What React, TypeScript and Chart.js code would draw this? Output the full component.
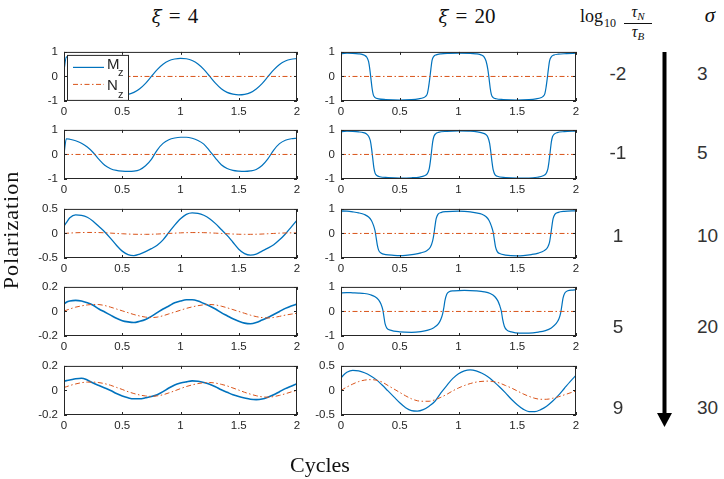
import React, { useEffect, useRef } from "react";
import { Chart, registerables } from "chart.js";
Chart.register(...registerables);

// ---------- data ----------
const cycles = [0, 0.02, 0.05, 0.1, 0.15, 0.2, 0.25, 0.3, 0.35, 0.4, 0.45, 0.5, 0.55, 0.6, 0.65, 0.7, 0.75, 0.8, 0.85, 0.9, 0.95, 1, 1.05, 1.1, 1.15, 1.2, 1.25, 1.3, 1.35, 1.4, 1.45, 1.5, 1.55, 1.6, 1.65, 1.7, 1.75, 1.8, 1.85, 1.9, 1.95, 2];

// xi = 4 column (values on `cycles`)
const mzXi4Sig3 = [0.25, 0.8, 0.71, 0.64, 0.5, 0.28, 0, -0.28, -0.5, -0.64, -0.71, -0.74, -0.73, -0.65, -0.5, -0.28, 0, 0.28, 0.5, 0.64, 0.71, 0.74, 0.72, 0.65, 0.51, 0.29, 0.01, -0.27, -0.5, -0.65, -0.72, -0.75, -0.73, -0.66, -0.51, -0.29, -0.01, 0.27, 0.49, 0.63, 0.7, 0.73];
const mzXi4Sig5 = [0, 0.64, 0.62, 0.56, 0.46, 0.3, 0.08, -0.2, -0.44, -0.58, -0.65, -0.68, -0.69, -0.68, -0.62, -0.46, -0.2, 0.18, 0.45, 0.6, 0.67, 0.7, 0.7, 0.66, 0.57, 0.42, 0.15, -0.15, -0.42, -0.57, -0.65, -0.68, -0.69, -0.67, -0.61, -0.45, -0.18, 0.18, 0.44, 0.58, 0.64, 0.66];
const mzXi4Sig10 = [0.15, 0.22, 0.32, 0.38, 0.37, 0.33, 0.25, 0.14, 0.03, -0.1, -0.24, -0.36, -0.43, -0.45, -0.42, -0.37, -0.31, -0.24, -0.13, 0.02, 0.17, 0.3, 0.39, 0.42, 0.41, 0.37, 0.3, 0.2, 0.08, -0.04, -0.18, -0.32, -0.41, -0.44, -0.42, -0.36, -0.3, -0.23, -0.13, -0.01, 0.13, 0.27];
const nzXi4Sig10 = [0, 0.004, 0.008, 0.014, 0.018, 0.02, 0.02, 0.018, 0.013, 0.007, 0, -0.006, -0.012, -0.016, -0.018, -0.018, -0.016, -0.012, -0.006, 0, 0.006, 0.012, 0.016, 0.018, 0.018, 0.016, 0.012, 0.006, 0, -0.006, -0.012, -0.016, -0.018, -0.018, -0.016, -0.012, -0.006, 0, 0.006, 0.01, 0.012, 0.012];
const mzXi4Sig20 = [0.06, 0.075, 0.085, 0.09, 0.085, 0.07, 0.05, 0.02, -0.005, -0.03, -0.055, -0.075, -0.085, -0.09, -0.08, -0.065, -0.04, -0.01, 0.02, 0.045, 0.07, 0.085, 0.095, 0.095, 0.085, 0.065, 0.045, 0.02, -0.01, -0.035, -0.06, -0.08, -0.095, -0.1, -0.09, -0.07, -0.05, -0.025, 0, 0.025, 0.045, 0.06];
const nzXi4Sig20 = [0.005, 0.01, 0.02, 0.035, 0.045, 0.053, 0.057, 0.056, 0.048, 0.035, 0.02, 0.005, -0.01, -0.025, -0.037, -0.046, -0.05, -0.046, -0.035, -0.02, -0.005, 0.01, 0.025, 0.037, 0.047, 0.054, 0.057, 0.053, 0.043, 0.03, 0.015, 0, -0.015, -0.03, -0.042, -0.05, -0.053, -0.049, -0.04, -0.03, -0.022, -0.015];
const mzXi4Sig30 = [0.075, 0.08, 0.085, 0.095, 0.1, 0.085, 0.06, 0.04, 0.02, 0, -0.025, -0.045, -0.06, -0.068, -0.068, -0.06, -0.05, -0.035, -0.01, 0.02, 0.045, 0.06, 0.07, 0.078, 0.075, 0.065, 0.05, 0.03, 0.005, -0.015, -0.035, -0.05, -0.062, -0.072, -0.075, -0.07, -0.055, -0.035, -0.01, 0.015, 0.035, 0.055];
const nzXi4Sig30 = [0.025, 0.03, 0.04, 0.053, 0.063, 0.068, 0.068, 0.064, 0.055, 0.042, 0.025, 0.008, -0.01, -0.025, -0.037, -0.045, -0.048, -0.044, -0.035, -0.02, -0.003, 0.015, 0.032, 0.045, 0.056, 0.063, 0.065, 0.06, 0.05, 0.037, 0.02, 0.003, -0.015, -0.03, -0.043, -0.052, -0.055, -0.05, -0.04, -0.027, -0.012, 0];

// xi = 20 column ([cycle, value] pairs)
const mzXi20Sig3 = [[0, 0], [0.005, 0.93], [0.05, 0.95], [0.1, 0.94], [0.15, 0.92], [0.18, 0.9], [0.2, 0.86], [0.22, 0.78], [0.235, 0.6], [0.245, 0.3], [0.255, -0.1], [0.265, -0.5], [0.275, -0.75], [0.29, -0.86], [0.32, -0.91], [0.38, -0.94], [0.5, -0.96], [0.6, -0.94], [0.66, -0.91], [0.7, -0.87], [0.72, -0.81], [0.735, -0.7], [0.745, -0.45], [0.755, -0.1], [0.765, 0.3], [0.775, 0.65], [0.79, 0.82], [0.81, 0.88], [0.85, 0.92], [0.92, 0.94], [1, 0.95], [1.1, 0.94], [1.15, 0.92], [1.18, 0.9], [1.2, 0.86], [1.22, 0.78], [1.235, 0.62], [1.25, 0.28], [1.26, -0.08], [1.27, -0.48], [1.28, -0.74], [1.295, -0.86], [1.32, -0.91], [1.38, -0.94], [1.5, -0.96], [1.6, -0.94], [1.66, -0.91], [1.7, -0.87], [1.72, -0.81], [1.735, -0.7], [1.745, -0.45], [1.755, -0.1], [1.765, 0.3], [1.775, 0.63], [1.79, 0.8], [1.81, 0.87], [1.85, 0.91], [1.92, 0.93], [2, 0.95]];
const mzXi20Sig5 = [[0, 0], [0.005, 0.93], [0.05, 0.95], [0.1, 0.94], [0.15, 0.92], [0.19, 0.89], [0.215, 0.84], [0.235, 0.74], [0.25, 0.55], [0.26, 0.25], [0.27, -0.15], [0.28, -0.55], [0.29, -0.76], [0.305, -0.86], [0.33, -0.91], [0.4, -0.94], [0.5, -0.96], [0.6, -0.95], [0.67, -0.92], [0.71, -0.87], [0.735, -0.78], [0.75, -0.6], [0.76, -0.3], [0.77, 0.1], [0.78, 0.5], [0.79, 0.72], [0.805, 0.84], [0.83, 0.9], [0.9, 0.94], [1, 0.96], [1.1, 0.95], [1.16, 0.92], [1.2, 0.88], [1.23, 0.82], [1.25, 0.7], [1.265, 0.45], [1.275, 0.1], [1.285, -0.3], [1.295, -0.62], [1.31, -0.82], [1.33, -0.89], [1.4, -0.94], [1.5, -0.96], [1.6, -0.96], [1.67, -0.93], [1.72, -0.87], [1.745, -0.78], [1.76, -0.6], [1.77, -0.3], [1.78, 0.1], [1.79, 0.5], [1.8, 0.72], [1.815, 0.83], [1.84, 0.89], [1.9, 0.93], [2, 0.95]];
const mzXi20Sig10 = [[0, 0], [0.005, 0.92], [0.05, 0.91], [0.1, 0.88], [0.15, 0.84], [0.2, 0.77], [0.235, 0.67], [0.26, 0.52], [0.275, 0.35], [0.29, 0.1], [0.3, -0.2], [0.31, -0.5], [0.32, -0.68], [0.34, -0.8], [0.38, -0.86], [0.45, -0.89], [0.5, -0.9], [0.55, -0.89], [0.62, -0.85], [0.68, -0.79], [0.73, -0.7], [0.76, -0.56], [0.78, -0.3], [0.79, -0.05], [0.8, 0.3], [0.81, 0.6], [0.825, 0.78], [0.85, 0.85], [0.9, 0.89], [1, 0.91], [1.05, 0.9], [1.1, 0.88], [1.15, 0.84], [1.2, 0.78], [1.235, 0.68], [1.26, 0.53], [1.28, 0.3], [1.295, 0.05], [1.305, -0.25], [1.315, -0.55], [1.33, -0.74], [1.35, -0.82], [1.4, -0.88], [1.5, -0.91], [1.55, -0.9], [1.62, -0.86], [1.68, -0.8], [1.73, -0.7], [1.76, -0.55], [1.775, -0.35], [1.785, -0.05], [1.795, 0.3], [1.805, 0.6], [1.82, 0.78], [1.85, 0.86], [1.9, 0.9], [2, 0.92]];
const mzXi20Sig20 = [[0, 0], [0.005, 0.76], [0.05, 0.77], [0.1, 0.76], [0.15, 0.75], [0.2, 0.73], [0.25, 0.68], [0.29, 0.6], [0.32, 0.47], [0.34, 0.3], [0.355, 0.08], [0.365, -0.2], [0.375, -0.5], [0.39, -0.68], [0.42, -0.76], [0.5, -0.83], [0.6, -0.85], [0.68, -0.82], [0.74, -0.76], [0.79, -0.66], [0.83, -0.5], [0.85, -0.32], [0.865, -0.1], [0.875, 0.15], [0.885, 0.45], [0.9, 0.7], [0.92, 0.8], [0.96, 0.84], [1.05, 0.86], [1.15, 0.84], [1.22, 0.8], [1.27, 0.73], [1.31, 0.6], [1.335, 0.43], [1.35, 0.25], [1.365, 0], [1.375, -0.3], [1.39, -0.6], [1.41, -0.75], [1.45, -0.83], [1.52, -0.88], [1.6, -0.88], [1.68, -0.84], [1.74, -0.78], [1.79, -0.67], [1.83, -0.5], [1.855, -0.3], [1.87, -0.05], [1.88, 0.25], [1.89, 0.55], [1.905, 0.75], [1.93, 0.84], [1.97, 0.87], [2, 0.88]];
const mzXi20Sig30 = [0.25, 0.31, 0.37, 0.41, 0.4, 0.36, 0.3, 0.22, 0.11, -0.01, -0.13, -0.25, -0.35, -0.41, -0.42, -0.39, -0.32, -0.22, -0.05, 0.1, 0.24, 0.34, 0.4, 0.42, 0.4, 0.35, 0.28, 0.18, 0.07, -0.05, -0.18, -0.29, -0.38, -0.43, -0.43, -0.39, -0.32, -0.22, -0.1, 0.04, 0.18, 0.31];
const nzXi20Sig30 = [0, 0.03, 0.07, 0.13, 0.18, 0.21, 0.22, 0.21, 0.17, 0.1, 0.03, -0.04, -0.11, -0.17, -0.21, -0.22, -0.22, -0.19, -0.14, -0.08, -0.01, 0.05, 0.1, 0.14, 0.17, 0.185, 0.19, 0.18, 0.15, 0.1, 0.05, -0.01, -0.07, -0.12, -0.16, -0.18, -0.18, -0.16, -0.13, -0.09, -0.05, -0.01];
const nzFlat = [[0, 0], [2, 0]];

const xTicks = [0, 0.5, 1, 1.5, 2];
const xTickLabels = ["0", "0.5", "1", "1.5", "2"];
const yTicksUnit = [-1, 0, 1];
const yLabelsUnit = ["-1", "0", "1"];
const yTicksHalf = [-0.5, 0, 0.5];
const yLabelsHalf = ["-0.5", "0", "0.5"];
const yTicksSmall = [-0.2, 0, 0.2];
const yLabelsSmall = ["-0.2", "0", "0.2"];

const xiLabels = ["4", "20"];
const logRatioLabels = ["-2", "-1", "1", "5", "9"];
const sigmaLabels = ["3", "5", "10", "20", "30"];
const legendLabels = ["M", "N"];

// ---------- styling / layout ----------
const BLUE = "#0072BD";
const ORANGE = "#D95319";
const AXIS = "#262626";
const SANS = '"Liberation Sans", Arial, Helvetica, sans-serif';
const SERIF = '"Liberation Serif", "Times New Roman", serif';
const GREEK = '"DejaVu Serif", "Liberation Serif", serif';
const DASH = [5, 2.5, 1.5, 2.5];

const COL_LEFT = [64, 341];
const COL_W = [233, 235];
const ROW_TOP = [47, 125, 204, 282, 361];
const ROW_H = 54;
const PAD_L = 34, PAD_T = 8, PAD_R = 10, AX_H = 20;

const onCycles = (ys: number[]) => cycles.map((x, i) => ({ x, y: ys[i] }));
const onPairs = (ps: number[][]) => ps.map(([x, y]) => ({ x, y }));

const panels = [
  { col: 0, row: 0, mz: onCycles(mzXi4Sig3), nz: onPairs(nzFlat), yt: yTicksUnit, yl: yLabelsUnit, legend: true, lw: 1.2 },
  { col: 0, row: 1, mz: onCycles(mzXi4Sig5), nz: onPairs(nzFlat), yt: yTicksUnit, yl: yLabelsUnit, legend: false, lw: 1.2 },
  { col: 0, row: 2, mz: onCycles(mzXi4Sig10), nz: onCycles(nzXi4Sig10), yt: yTicksHalf, yl: yLabelsHalf, legend: false, lw: 1.3 },
  { col: 0, row: 3, mz: onCycles(mzXi4Sig20), nz: onCycles(nzXi4Sig20), yt: yTicksSmall, yl: yLabelsSmall, legend: false, lw: 1.6 },
  { col: 0, row: 4, mz: onCycles(mzXi4Sig30), nz: onCycles(nzXi4Sig30), yt: yTicksSmall, yl: yLabelsSmall, legend: false, lw: 1.6 },
  { col: 1, row: 0, mz: onPairs(mzXi20Sig3), nz: onPairs(nzFlat), yt: yTicksUnit, yl: yLabelsUnit, legend: false, lw: 1.2 },
  { col: 1, row: 1, mz: onPairs(mzXi20Sig5), nz: onPairs(nzFlat), yt: yTicksUnit, yl: yLabelsUnit, legend: false, lw: 1.2 },
  { col: 1, row: 2, mz: onPairs(mzXi20Sig10), nz: onPairs(nzFlat), yt: yTicksUnit, yl: yLabelsUnit, legend: false, lw: 1.2 },
  { col: 1, row: 3, mz: onPairs(mzXi20Sig20), nz: onPairs(nzFlat), yt: yTicksUnit, yl: yLabelsUnit, legend: false, lw: 1.2 },
  { col: 1, row: 4, mz: onCycles(mzXi20Sig30), nz: onCycles(nzXi20Sig30), yt: yTicksHalf, yl: yLabelsHalf, legend: false, lw: 1.2 },
];

const framePlugin = {
  id: "frame",
  afterDatasetsDraw(chart: any, _args: any, opts: any) {
    const { ctx, chartArea: a, scales } = chart;
    ctx.save();
    ctx.strokeStyle = AXIS;
    ctx.lineWidth = 1;
    ctx.strokeRect(a.left + 0.5, a.top + 0.5, a.right - a.left - 1, a.bottom - a.top - 1);
    const tl = 3;
    ctx.beginPath();
    for (const t of scales.x.ticks) {
      const px = Math.round(scales.x.getPixelForValue(t.value)) + 0.5;
      ctx.moveTo(px, a.bottom); ctx.lineTo(px, a.bottom - tl);
      ctx.moveTo(px, a.top); ctx.lineTo(px, a.top + tl);
    }
    for (const t of scales.y.ticks) {
      const py = Math.round(scales.y.getPixelForValue(t.value)) + 0.5;
      ctx.moveTo(a.left, py); ctx.lineTo(a.left + tl, py);
      ctx.moveTo(a.right, py); ctx.lineTo(a.right - tl, py);
    }
    ctx.stroke();
    if (opts && opts.legend) {
      const x0 = a.left + 3, y0 = a.top + 3;
      ctx.fillStyle = "#ffffff";
      ctx.fillRect(x0, y0, 62, 46);
      ctx.strokeStyle = AXIS;
      ctx.lineWidth = 1;
      ctx.strokeRect(x0 + 0.5, y0 + 0.5, 61, 45);
      ctx.strokeStyle = BLUE;
      ctx.lineWidth = 1.2;
      ctx.beginPath(); ctx.moveTo(x0 + 6, y0 + 12.5); ctx.lineTo(x0 + 37, y0 + 12.5); ctx.stroke();
      ctx.strokeStyle = ORANGE;
      ctx.lineWidth = 1;
      ctx.setLineDash(DASH);
      ctx.beginPath(); ctx.moveTo(x0 + 6, y0 + 29.5); ctx.lineTo(x0 + 37, y0 + 29.5); ctx.stroke();
      ctx.setLineDash([]);
      ctx.fillStyle = AXIS;
      ctx.textBaseline = "alphabetic";
      ctx.textAlign = "left";
      ctx.font = `15px ${SANS}`;
      ctx.fillText(legendLabels[0], x0 + 40, y0 + 14);
      ctx.fillText(legendLabels[1], x0 + 40, y0 + 35);
      ctx.font = `11px ${SANS}`;
      ctx.fillText("z", x0 + 51, y0 + 21);
      ctx.fillText("z", x0 + 51, y0 + 43);
    }
    ctx.restore();
  },
};

function Panel({ p }: { p: any }) {
  const ref = useRef<HTMLCanvasElement>(null);
  const w = COL_W[p.col];
  useEffect(() => {
    const tickFont = { family: SANS, size: 11.5 };
    const chart = new Chart(ref.current as HTMLCanvasElement, {
      type: "line",
      data: {
        datasets: [
          { label: "Nz", data: p.nz, borderColor: ORANGE, borderWidth: 1, borderDash: DASH, pointRadius: 0, cubicInterpolationMode: "monotone", fill: false },
          { label: "Mz", data: p.mz, borderColor: BLUE, borderWidth: p.lw, pointRadius: 0, cubicInterpolationMode: "monotone", fill: false },
        ],
      },
      options: {
        animation: false,
        responsive: false,
        maintainAspectRatio: false,
        devicePixelRatio: 1,
        events: [],
        layout: { padding: { left: 0, top: PAD_T, right: PAD_R, bottom: 0 } },
        plugins: { legend: { display: false }, tooltip: { enabled: false }, frame: { legend: p.legend } } as any,
        scales: {
          x: {
            type: "linear", min: 0, max: 2,
            afterBuildTicks: (s: any) => { s.ticks = xTicks.map((v) => ({ value: v })); },
            afterFit: (s: any) => { s.height = AX_H; },
            grid: { display: false, drawTicks: false },
            border: { display: false },
            ticks: { padding: 4, color: AXIS, font: tickFont, maxRotation: 0, autoSkip: false, callback: (v: any) => xTickLabels[xTicks.indexOf(Number(v))] },
          },
          y: {
            type: "linear", min: p.yt[0], max: p.yt[p.yt.length - 1],
            afterBuildTicks: (s: any) => { s.ticks = p.yt.map((v: number) => ({ value: v })); },
            afterFit: (s: any) => { s.width = PAD_L; },
            grid: { display: false, drawTicks: false },
            border: { display: false },
            ticks: { padding: 6, color: AXIS, font: tickFont, autoSkip: false, callback: (v: any) => p.yl[p.yt.indexOf(Number(v))] },
          },
        },
      } as any,
      plugins: [framePlugin as any],
    });
    return () => chart.destroy();
  }, []);
  return (
    <canvas
      ref={ref}
      width={PAD_L + w + PAD_R}
      height={PAD_T + ROW_H + AX_H}
      style={{ position: "absolute", left: COL_LEFT[p.col] - PAD_L, top: ROW_TOP[p.row] - PAD_T, width: PAD_L + w + PAD_R, height: PAD_T + ROW_H + AX_H }}
    />
  );
}

function Txt({ x, y, size, family, align = "center", color = "#111", children, style }: any) {
  const tr = align === "center" ? "translateX(-50%)" : align === "right" ? "translateX(-100%)" : "none";
  return (
    <div style={{ position: "absolute", left: x, top: y - 0.84 * size, fontSize: size, lineHeight: `${size}px`, fontFamily: family, whiteSpace: "nowrap", transform: tr, color, ...style }}>
      {children}
    </div>
  );
}

const LABEL_BASE = [80, 159, 242, 333, 414];

function XiTitle({ x, value }: { x: number; value: string }) {
  return (
    <Txt x={x} y={24} size={21} family={SERIF}>
      <span style={{ fontFamily: GREEK, fontStyle: "italic", fontSize: 18 }}>ξ</span>
      <span style={{ margin: "0 7px" }}>=</span>
      {value}
    </Txt>
  );
}

export default function App() {
  return (
    <div style={{ position: "fixed", left: 0, top: 0, width: 724, height: 479, background: "#fff", overflow: "hidden" }}>
      {panels.map((p, i) => <Panel key={i} p={p} />)}

      {/* column titles */}
      <XiTitle x={175} value={xiLabels[0]} />
      <XiTitle x={467} value={xiLabels[1]} />

      {/* log10 tauN/tauB */}
      <Txt x={580} y={22} size={18} family={SERIF} align="left">log</Txt>
      <Txt x={604} y={27} size={12} family={SERIF} align="left">10</Txt>
      <Txt x={638} y={17} size={16} family={SERIF}>
        <span style={{ fontStyle: "italic" }}>τ</span>
        <span style={{ fontStyle: "italic", fontSize: 11, position: "relative", top: 3 }}>N</span>
      </Txt>
      <div style={{ position: "absolute", left: 624, top: 23, width: 28, height: 1, background: "#111" }} />
      <Txt x={638} y={37} size={16} family={SERIF}>
        <span style={{ fontStyle: "italic" }}>τ</span>
        <span style={{ fontStyle: "italic", fontSize: 11, position: "relative", top: 3 }}>B</span>
      </Txt>
      <Txt x={710} y={23} size={21} family={SERIF}>
        <span style={{ fontStyle: "italic" }}>σ</span>
      </Txt>

      {/* row annotations */}
      {logRatioLabels.map((t, i) => (
        <Txt key={"l" + i} x={618} y={LABEL_BASE[i]} size={19} family={SANS} color="#333">{t}</Txt>
      ))}
      {sigmaLabels.map((t, i) => (
        <Txt key={"s" + i} x={697} y={LABEL_BASE[i]} size={19} family={SANS} align="left" color="#333">{t}</Txt>
      ))}

      {/* arrow */}
      <svg width={724} height={479} style={{ position: "absolute", left: 0, top: 0 }}>
        <line x1={664.5} y1={52} x2={664.5} y2={414} stroke="#000" strokeWidth={4} />
        <polygon points="657,413 672,413 664.5,427" fill="#000" />
      </svg>

      {/* axis titles */}
      <div style={{ position: "absolute", left: 18, top: 230, width: 0, height: 0, transform: "rotate(-90deg)", transformOrigin: "0 0" }}>
        <div style={{ position: "absolute", left: 0, top: -0.84 * 22, fontSize: 22, lineHeight: "22px", fontFamily: SERIF, whiteSpace: "nowrap", transform: "translateX(-50%)", letterSpacing: 1, color: "#111" }}>
          Polarization
        </div>
      </div>
      <Txt x={320} y={472} size={22} family={SERIF}>Cycles</Txt>
    </div>
  );
}
